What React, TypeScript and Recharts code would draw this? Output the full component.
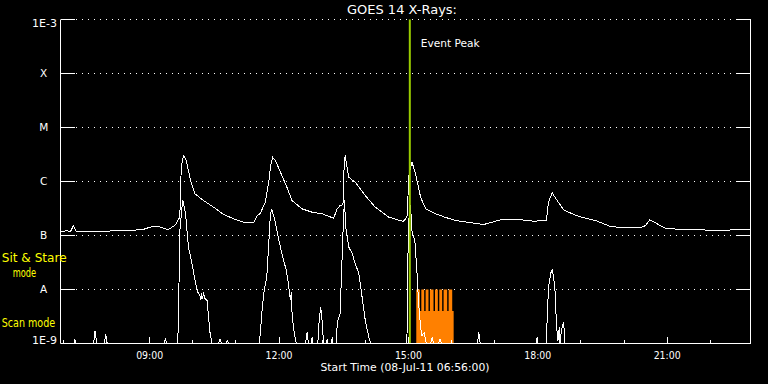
import { ComposedChart, Line, Area, XAxis, YAxis, CartesianGrid, ReferenceLine } from 'recharts';

// times are UT on 08-Jul-11, fluxes in W/m^2
const longTimes = ['06:56', '07:05', '07:10', '07:14', '07:18', '07:30', '07:51', '08:10', '08:26', '08:50', '09:05', '09:15', '09:26', '09:36', '09:42', '09:44', '09:47', '09:51', '09:57', '10:03', '10:15', '10:29', '10:43', '10:57', '11:11', '11:25', '11:29', '11:34', '11:41', '11:46', '11:48', '11:51', '11:55', '12:02', '12:11', '12:18', '12:32', '12:46', '13:00', '13:16', '13:21', '13:25', '13:29', '13:30', '13:32', '13:37', '13:46', '14:00', '14:14', '14:33', '14:53', '14:58', '15:01', '15:05', '15:10', '15:17', '15:24', '15:38', '15:51', '16:05', '16:22', '16:45', '17:08', '17:31', '17:54', '18:12', '18:15', '18:20', '18:27', '18:36', '18:50', '19:04', '19:23', '19:41', '20:00', '20:23', '20:30', '20:36', '20:46', '20:58', '21:23', '21:46', '22:10', '22:33', '22:56'];
const longFlux = [1.19e-7, 1.22e-7, 1.19e-7, 1.53e-7, 1.19e-7, 1.17e-7, 1.19e-7, 1.22e-7, 1.24e-7, 1.28e-7, 1.49e-7, 1.43e-7, 1.28e-7, 1.58e-7, 2.18e-7, 1.84e-6, 3.03e-6, 2.45e-6, 1.04e-6, 5.92e-7, 4.45e-7, 3.34e-7, 2.45e-7, 2.04e-7, 1.76e-7, 1.76e-7, 2.25e-7, 2.59e-7, 4.14e-7, 1.04e-6, 1.84e-6, 2.82e-6, 2.45e-6, 1.49e-6, 7.83e-7, 4.45e-7, 3.12e-7, 2.7e-7, 2.52e-7, 2.09e-7, 3.12e-7, 3.6e-7, 3.71e-7, 1.39e-6, 3.03e-6, 1.2e-6, 9.7e-7, 5.51e-7, 3.34e-7, 2.18e-7, 1.82e-7, 2.18e-7, 1.39e-6, 2.28e-6, 1.39e-6, 5.12e-7, 3.12e-7, 2.52e-7, 2.18e-7, 1.9e-7, 1.76e-7, 1.6e-7, 1.95e-7, 2.0e-7, 1.84e-7, 1.9e-7, 4.14e-7, 6.18e-7, 4.45e-7, 2.99e-7, 2.45e-7, 2.13e-7, 1.84e-7, 1.47e-7, 1.39e-7, 1.39e-7, 1.53e-7, 1.95e-7, 1.65e-7, 1.35e-7, 1.29e-7, 1.28e-7, 1.22e-7, 1.28e-7, 1.31e-7];

const shortTimes = ['06:56', '07:15', '07:16', '07:17', '07:42', '07:44', '07:46', '07:47', '07:57', '07:59', '08:01', '09:20', '09:22', '09:24', '09:39', '09:40', '09:42', '09:46', '09:50', '09:54', '09:59', '10:03', '10:07', '10:10', '10:11', '10:12', '10:13', '10:15', '10:17', '10:20', '10:22', '10:24', '10:27', '10:36', '10:38', '10:40', '10:46', '10:48', '10:50', '11:32', '11:34', '11:36', '11:39', '11:43', '11:46', '11:48', '11:50', '11:54', '11:59', '12:04', '12:10', '12:13', '12:16', '12:17', '12:18', '12:20', '12:24', '12:37', '12:39', '12:41', '12:45', '12:46', '12:47', '12:54', '12:56', '12:58', '13:00', '13:02', '13:06', '13:07', '13:08', '13:13', '13:14', '13:15', '13:20', '13:21', '13:25', '13:29', '13:31', '13:33', '13:37', '13:42', '13:46', '13:51', '13:55', '14:00', '14:05', '14:08', '14:57', '14:58', '15:00', '15:03', '15:05', '15:09', '15:12', '15:14', '15:17', '15:19', '15:22', '15:25', '15:31', '15:33', '15:35', '15:42', '15:44', '15:46', '16:36', '16:38', '16:40', '17:58', '17:59', '18:00', '18:12', '18:13', '18:15', '18:18', '18:20', '18:22', '18:24', '18:26', '18:28', '18:30', '18:31', '18:33', '18:36', '18:38', '22:56'];
const shortFlux = [1e-9, 1e-9, 1.2e-9, 1e-9, 1e-9, 1.7e-9, 1.1e-9, 1e-9, 1e-9, 1.5e-9, 1e-9, 1e-9, 1.2e-9, 1e-9, 1e-9, 2.4e-9, 1.2e-7, 4.6e-7, 2.5e-7, 6.1e-8, 3.0e-8, 1.5e-8, 8.9e-9, 7.7e-9, 6.3e-9, 8.5e-9, 6.6e-9, 8.3e-9, 6.8e-9, 6.2e-9, 3.1e-9, 1.6e-9, 1e-9, 1e-9, 1.2e-9, 1e-9, 1e-9, 1.15e-9, 1e-9, 1e-9, 1.5e-9, 3.5e-9, 8.9e-9, 1.7e-8, 8.1e-8, 2.5e-7, 3.0e-7, 2.0e-7, 9.3e-8, 4.6e-8, 2.3e-8, 1.3e-8, 6.3e-9, 8.9e-9, 4e-9, 2.0e-9, 1e-9, 1e-9, 1.6e-9, 1e-9, 1e-9, 1.3e-9, 1e-9, 1e-9, 2.9e-9, 4.7e-9, 2.6e-9, 1e-9, 1e-9, 1.2e-9, 1e-9, 1e-9, 1.3e-9, 1e-9, 1e-9, 2.5e-9, 3.6e-9, 1.1e-7, 4.5e-7, 1.4e-7, 6.1e-8, 4.6e-8, 3.0e-8, 2.0e-8, 8.3e-9, 2.7e-9, 1.3e-9, 1e-9, 1e-9, 1.15e-9, 1.7e-7, 3.6e-7, 1.2e-7, 8.1e-8, 2.0e-8, 6.3e-9, 2.0e-9, 1.4e-9, 1.6e-9, 1e-9, 1e-9, 1.3e-9, 1e-9, 1e-9, 1.2e-9, 1e-9, 1e-9, 1.6e-9, 1e-9, 1e-9, 1.3e-9, 1e-9, 1e-9, 2.7e-9, 1.1e-8, 2.0e-8, 2.3e-8, 1.7e-8, 9.6e-9, 2.3e-9, 1.1e-9, 2.0e-9, 1e-9, 1.8e-9, 2.5e-9, 1e-9, 1e-9];

// instrument mode: 1e-8 = sit & stare, 4e-9 = scan
const modeTimes = ['15:11', '15:16', '15:18', '15:22', '15:24', '15:28', '15:30', '15:35', '15:37', '15:41', '15:43', '15:47', '15:49', '15:54', '15:56', '16:01', '16:03'];
const modeFlux = [1e-8, 4e-9, 1e-8, 4e-9, 1e-8, 4e-9, 1e-8, 4e-9, 1e-8, 4e-9, 1e-8, 4e-9, 1e-8, 4e-9, 1e-8, 4e-9, 1e-9];

const eventPeak = '15:02';
const startTime = '06:56';
const endTime = '22:56';
const hourTicks = [7, 8, 9, 10, 11, 12, 13, 14, 15, 16, 17, 18, 19, 20, 21, 22];
const labelHours = [9, 12, 15, 18, 21];
const fluxTicks = [1e-9, 1e-8, 1e-7, 1e-6, 1e-5, 1e-4, 1e-3];
const levelNames: Record<number, string> = { '-3': '1E-3', '-4': 'X', '-5': 'M', '-6': 'C', '-7': 'B', '-8': 'A', '-9': '1E-9' } as any;

const toHours = (s: string) => {
  const [h, m] = s.split(':').map(Number);
  return h + m / 60;
};

const longData = longTimes.map((t, i) => ({ t: toHours(t), flux: longFlux[i] }));
const shortData = shortTimes.map((t, i) => ({ t: toHours(t), flux: shortFlux[i] }));
const modeData = modeTimes.map((t, i) => ({ t: toHours(t), flux: modeFlux[i] }));

const FONT = 'DejaVu Sans';
const WHITE = '#ffffff';

const LeftTick = ({ x, y, payload }: any) => {
  const e = Math.round(Math.log10(payload.value));
  const name = levelNames[e];
  const isDecade = e === -3 || e === -9;
  const ty = e === -3 ? y + 7 : e === -9 ? y + 0.5 : y + 3.8;
  return (
    <g>
      <line x1={x} x2={x + 14} y1={y} y2={y} stroke={WHITE} shapeRendering="crispEdges" />
      <text x={isDecade ? x - 3.5 : x - 16.8} y={ty} textAnchor={isDecade ? 'end' : 'middle'} fill={WHITE} fontSize={10.5} fontFamily={FONT}
        textLength={isDecade ? 25 : undefined} lengthAdjust="spacingAndGlyphs">{name}</text>
    </g>
  );
};

const RightTick = ({ x, y }: any) => <line x1={x - 14} x2={x} y1={y} y2={y} stroke={WHITE} shapeRendering="crispEdges" />;

const TopTick = ({ x, y, payload }: any) => {
  const len = labelHours.includes(payload.value) ? 7 : 3.5;
  return <line x1={x} x2={x} y1={y} y2={y + len} stroke={WHITE} shapeRendering="crispEdges" />;
};

const BottomTick = ({ x, y, payload }: any) => {
  const major = labelHours.includes(payload.value);
  const label = String(payload.value).padStart(2, '0') + ':00';
  return (
    <g>
      <line x1={x} x2={x} y1={y} y2={y - (major ? 7 : 3.5)} stroke={WHITE} shapeRendering="crispEdges" />
      {major && (
        <text x={x} y={y + 15.5} textAnchor="middle" fill={WHITE} fontSize={10.5} fontFamily={FONT} textLength={27} lengthAdjust="spacingAndGlyphs">{label}</text>
      )}
    </g>
  );
};

export default function App() {
  const xDomain = [toHours(startTime), toHours(endTime)];
  return (
    <div style={{ position: 'absolute', left: 0, top: 0, width: 768, height: 384, background: '#000', overflow: 'hidden' }}>
      <ComposedChart width={768} height={384} margin={{ top: 19.5, right: 0, bottom: 0, left: 0 }}>
        <CartesianGrid xAxisId="bottom" yAxisId="left" vertical={false} stroke={WHITE} strokeDasharray="1 5" strokeDashoffset={2.5} />
        <XAxis xAxisId="bottom" dataKey="t" type="number" domain={xDomain} allowDataOverflow ticks={hourTicks} interval={0}
          height={40.5} tickSize={0} tickMargin={0} tickLine={false} axisLine={{ stroke: WHITE }} tick={<BottomTick />} />
        <XAxis xAxisId="top" orientation="top" dataKey="t" type="number" domain={xDomain} allowDataOverflow ticks={hourTicks} interval={0}
          height={0} tickSize={0} tickMargin={0} tickLine={false} axisLine={{ stroke: WHITE }} tick={<TopTick />} />
        <YAxis yAxisId="left" scale="log" type="number" domain={[1e-9, 1e-3]} allowDataOverflow ticks={fluxTicks} interval={0}
          width={60.5} tickSize={0} tickMargin={0} tickLine={false} axisLine={{ stroke: WHITE }} tick={<LeftTick />} />
        <YAxis yAxisId="right" orientation="right" scale="log" type="number" domain={[1e-9, 1e-3]} allowDataOverflow ticks={fluxTicks} interval={0}
          width={17.5} tickSize={0} tickMargin={0} tickLine={false} axisLine={{ stroke: WHITE }} tick={<RightTick />} />
        <Area xAxisId="bottom" yAxisId="left" data={modeData} dataKey="flux" type="stepAfter" stroke="none" fill="#ff8000" fillOpacity={1} isAnimationActive={false} />
        <Line xAxisId="bottom" yAxisId="left" data={longData} dataKey="flux" type="linear" stroke={WHITE} strokeWidth={1} dot={false} isAnimationActive={false} shapeRendering="crispEdges" />
        <Line xAxisId="bottom" yAxisId="left" data={shortData} dataKey="flux" type="linear" stroke={WHITE} strokeWidth={1} dot={false} isAnimationActive={false} shapeRendering="crispEdges" />
        <ReferenceLine xAxisId="bottom" yAxisId="left" x={toHours(eventPeak)} stroke="#99cc00" strokeWidth={2} />
      </ComposedChart>
      <svg width={768} height={384} style={{ position: 'absolute', left: 0, top: 0, pointerEvents: 'none' }} fontFamily={FONT}>
        <text x={402} y={13.5} textAnchor="middle" fill={WHITE} fontSize={12} textLength={110} lengthAdjust="spacingAndGlyphs">GOES 14 X-Rays:</text>
        <text x={420.7} y={46.7} fill={WHITE} fontSize={10.5} textLength={59} lengthAdjust="spacingAndGlyphs">Event Peak</text>
        <text x={405} y={371} textAnchor="middle" fill={WHITE} fontSize={11} textLength={169} lengthAdjust="spacingAndGlyphs">Start Time (08-Jul-11 06:56:00)</text>
        <text x={1.7} y={262} fill="#ffff00" fontSize={11.5} textLength={65} lengthAdjust="spacingAndGlyphs">Sit &amp; Stare</text>
        <text x={12.7} y={276.5} fill="#ffff00" fontSize={11.5} textLength={23.5} lengthAdjust="spacingAndGlyphs">mode</text>
        <text x={1.7} y={327.3} fill="#ffff00" fontSize={11.5} textLength={53.5} lengthAdjust="spacingAndGlyphs">Scan mode</text>
      </svg>
    </div>
  );
}
